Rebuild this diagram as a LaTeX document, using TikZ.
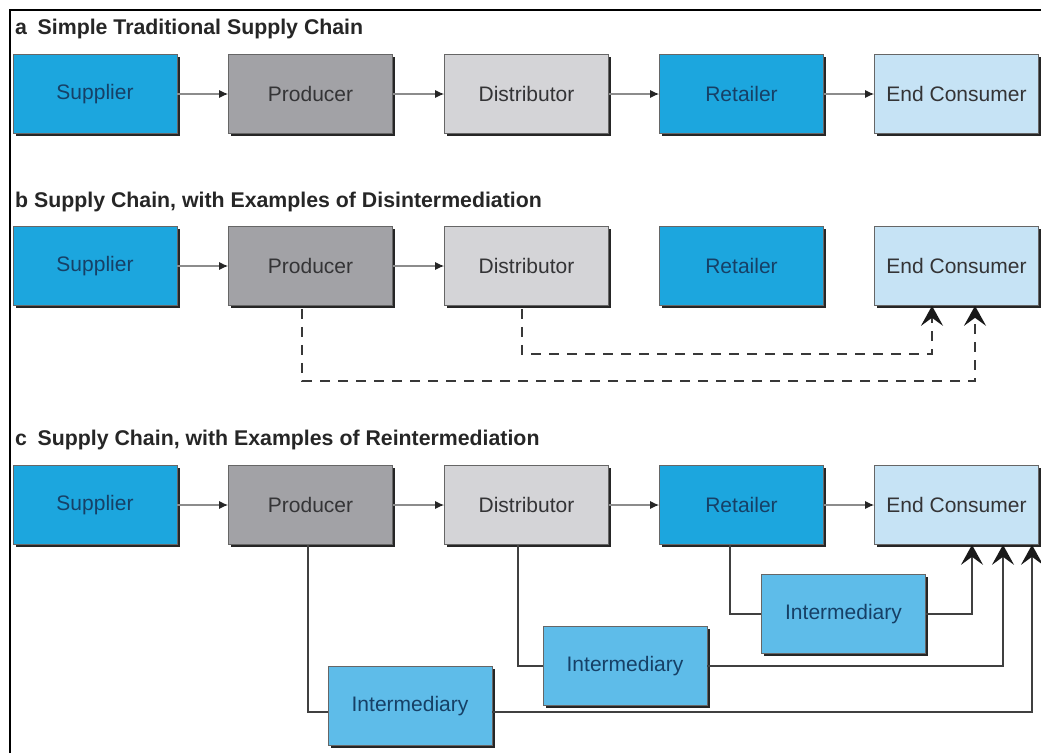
\documentclass[tikz,border=0pt]{standalone}
\usepackage{fontspec}
\setmainfont{Liberation Sans}
\usetikzlibrary{arrows.meta,shadows}

\definecolor{blueA}{RGB}{28,166,222}
\definecolor{greyP}{RGB}{162,162,166}
\definecolor{greyD}{RGB}{212,212,215}
\definecolor{blueE}{RGB}{198,227,245}
\definecolor{blueI}{RGB}{94,188,233}
\definecolor{txtB}{RGB}{22,64,102}
\definecolor{txtG}{RGB}{52,52,54}

\begin{document}
\begin{tikzpicture}[x=1pt,y=-1pt]
\tikzset{
    box/.style={draw=black!60, line width=0.6pt, minimum width=164pt, minimum height=79pt,
        inner sep=0pt, font=\fontsize{21}{25}\selectfont,
        drop shadow={shadow xshift=2.5pt, shadow yshift=-2.5pt, fill=black!85, opacity=1}},
    boxS/.style={box, fill=blueA, text=txtB},
    boxP/.style={box, fill=greyP, text=txtG},
    boxD/.style={box, fill=greyD, text=txtG},
    boxE/.style={box, fill=blueE, text=txtG},
    boxI/.style={box, fill=blueI, text=txtB},
    title/.style={anchor=west, inner sep=0pt, text=black!85, font=\fontsize{21.3}{25}\selectfont\bfseries},
    flow/.style={draw=black!45, line width=1.3pt, -{Latex[length=9pt,width=8pt,color=black!85]}},
    dashline/.style={draw=black!78, line width=2.2pt, dash pattern=on 10pt off 8pt,
        -{Stealth[length=20pt,width=22pt,inset=8pt,color=black!90]}},
    link/.style={draw=black!75, line width=2pt,
        -{Stealth[length=20pt,width=22pt,inset=8pt,color=black!90]}}}

\def\xs{95}
\def\xp{310.5}
\def\xd{526.5}
\def\xr{741.5}
\def\xe{956.5}
\def\ya{94}
\def\yb{266}
\def\yc{505}

\useasboundingbox (0,0) rectangle (1041,753);
\draw[line width=2.5pt] (10,753) -- (10,10) -- (1041,10);

% a
\node[title] (Ta) at (15,29) {a\enspace Simple Traditional Supply Chain};
\node[boxS] (Sa) at (\xs,\ya) {Supplier};
\node[boxP] (Pa) at (\xp,\ya) {Producer};
\node[boxD] (Da) at (\xd,\ya) {Distributor};
\node[boxS] (Ra) at (\xr,\ya) {Retailer};
\node[boxE] (Ea) at (\xe,\ya) {End Consumer};
\foreach \a/\b in {Sa/Pa,Pa/Da,Da/Ra,Ra/Ea}
    \draw[flow] (\a) -- (\b);

% b
\node[title] (Tb) at (15,202) {b Supply Chain, with Examples of Disintermediation};
\node[boxS] (Sb) at (\xs,\yb) {Supplier};
\node[boxP] (Pb) at (\xp,\yb) {Producer};
\node[boxD] (Db) at (\xd,\yb) {Distributor};
\node[boxS] (Rb) at (\xr,\yb) {Retailer};
\node[boxE] (Eb) at (\xe,\yb) {End Consumer};
\foreach \a/\b in {Sb/Pb,Pb/Db}
    \draw[flow] (\a) -- (\b);
\draw[dashline] ([xshift=-4.5pt,yshift=-3pt]Db.south) -- ++(0,45) -| ([xshift=-24.5pt]Eb.south);
\draw[dashline] ([xshift=-8.5pt,yshift=-3pt]Pb.south) -- ++(0,72) -| ([xshift=18.5pt]Eb.south);

% c
\node[title] (Tc) at (15,440) {c\enspace Supply Chain, with Examples of Reintermediation};
\node[boxS] (Sc) at (\xs,\yc) {Supplier};
\node[boxP] (Pc) at (\xp,\yc) {Producer};
\node[boxD] (Dc) at (\xd,\yc) {Distributor};
\node[boxS] (Rc) at (\xr,\yc) {Retailer};
\node[boxE] (Ec) at (\xe,\yc) {End Consumer};
\foreach \a/\b in {Sc/Pc,Pc/Dc,Dc/Rc,Rc/Ec}
    \draw[flow] (\a) -- (\b);

\node[boxI] (I1) at (843.5,614) {Intermediary};
\node[boxI] (I2) at (625,666) {Intermediary};
\node[boxI] (I3) at (410,706) {Intermediary};

\draw[link, -] ([xshift=-11.5pt]Rc.south) |- (I1.west);
\draw[link] (I1.east) -| ([xshift=15.5pt]Ec.south);
\draw[link, -] ([xshift=-8.5pt]Dc.south) |- (I2.west);
\draw[link] (I2.east) -| ([xshift=46.5pt]Ec.south);
\draw[link, -] ([xshift=-2.5pt]Pc.south) |- ([yshift=-6pt]I3.west);
\draw[link] ([yshift=-6pt]I3.east) -| ([xshift=75.5pt]Ec.south);
\end{tikzpicture}
\end{document}
